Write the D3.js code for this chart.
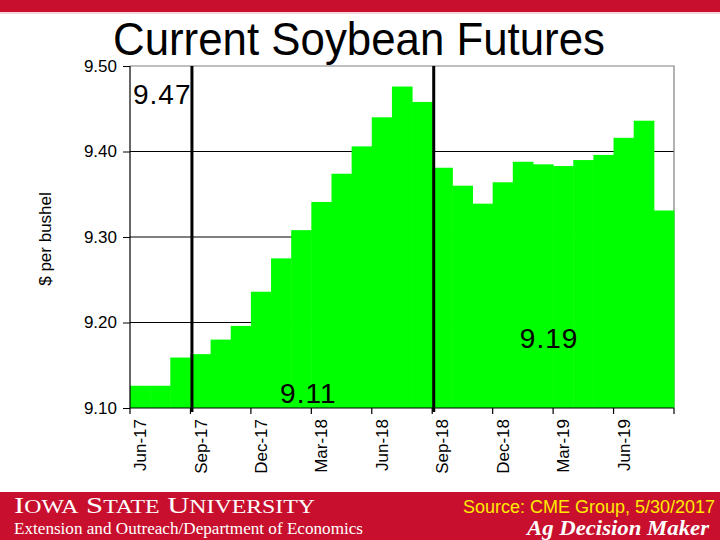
<!DOCTYPE html>
<html><head><meta charset="utf-8">
<script src="https://cdn.jsdelivr.net/npm/d3@7"></script>
<style>
html,body{margin:0;padding:0;background:#fff;}
svg{display:block;}
</style></head>
<body>
<svg id="chart" width="720" height="540"></svg>
<script>
// ---- data ----
const months = ["Jun-17","Jul-17","Aug-17","Sep-17","Oct-17","Nov-17","Dec-17","Jan-18","Feb-18","Mar-18","Apr-18","May-18","Jun-18","Jul-18","Aug-18","Sep-18","Oct-18","Nov-18","Dec-18","Jan-19","Feb-19","Mar-19","Apr-19","May-19","Jun-19","Jul-19","Aug-19"];
const prices = [9.126,9.126,9.159,9.163,9.180,9.196,9.236,9.275,9.308,9.341,9.374,9.406,9.440,9.476,9.458,9.381,9.360,9.339,9.364,9.388,9.385,9.383,9.390,9.396,9.416,9.436,9.331];
const yTicks = [9.10,9.20,9.30,9.40,9.50];
const markerMonths = ["Sep-17","Sep-18"];
const annotations = ["9.47","9.11","9.19"];
const title = "Current Soybean Futures";
const yLabel = "$ per bushel";
const sourceText = "Source: CME Group, 5/30/2017";

const svg = d3.select("#chart");
const red = "#C8102E";

// top band
svg.append("rect").attr("x",0).attr("y",0).attr("width",720).attr("height",12).attr("fill",red);
svg.append("rect").attr("x",0).attr("y",12).attr("width",720).attr("height",2).attr("fill","#f3d6da");

const x = d3.scaleBand().domain(months).range([130,674]).padding(0);
const y = d3.scaleLinear().domain([9.10,9.50]).range([408,66]);

// gridlines
svg.append("g").selectAll("line").data(yTicks.filter(t=>t>9.1 && t<9.5)).join("line")
  .attr("x1",130).attr("x2",674).attr("y1",d=>y(d)).attr("y2",d=>y(d))
  .attr("stroke","#000").attr("stroke-width",1.2);
// top & right border
svg.append("path").attr("d",`M130,${y(9.5)}H674V${y(9.1)}`).attr("fill","none").attr("stroke","#808080").attr("stroke-width",1.2);

// bars
svg.append("g").selectAll("rect").data(prices).join("rect")
  .attr("x",(d,i)=>x(months[i])).attr("width",x.bandwidth()+0.5)
  .attr("y",d=>y(d)).attr("height",d=>y(9.10)-y(d))
  .attr("fill","#00FF00");

// y axis
const yAxis = d3.axisLeft(y).tickValues(yTicks).tickFormat(d3.format(".2f")).tickSize(7).tickPadding(6);
const gy = svg.append("g").attr("transform","translate(130,0)").call(yAxis);
gy.select(".domain").attr("stroke","#000").attr("stroke-width",1.2).attr("d",`M0,${y(9.5)}V${y(9.1)}`);
gy.selectAll(".tick line").attr("stroke","#000");
gy.selectAll("text").attr("font-family","Liberation Sans, Arial, sans-serif").attr("font-size",17).attr("fill","#000");

// x axis
const xTickIdx = months.map((m,i)=>i).filter(i=>i%3===0);
const gx = svg.append("g");
gx.append("line").attr("x1",130).attr("x2",674).attr("y1",y(9.1)).attr("y2",y(9.1)).attr("stroke","#000").attr("stroke-width",1.2);
gx.selectAll("line.tk").data(xTickIdx.map(i=>x(months[i])).concat([x.range()[1]])).join("line").attr("class","tk")
  .attr("x1",d=>d).attr("x2",d=>d).attr("y1",y(9.1)).attr("y2",y(9.1)+6).attr("stroke","#000").attr("stroke-width",1.2);
gx.selectAll("text").data(xTickIdx).join("text")
  .attr("transform",i=>`translate(${x(months[i])+x.bandwidth()/2+6},${y(9.1)+11}) rotate(-90)`)
  .attr("text-anchor","end")
  .attr("font-family","Liberation Sans, Arial, sans-serif").attr("font-size",17).attr("fill","#000")
  .text(i=>months[i]);

// vertical marker lines
svg.append("g").selectAll("line").data(markerMonths).join("line")
  .attr("x1",d=>x(d)+1.5).attr("x2",d=>x(d)+1.5).attr("y1",y(9.5)).attr("y2",y(9.1)+4)
  .attr("stroke","#000").attr("stroke-width",3);

// annotations
const ann = svg.append("g").attr("font-family","Liberation Sans, Arial, sans-serif").attr("font-size",28).attr("fill","#000").attr("letter-spacing",1);
ann.append("text").attr("x",x(months[0])+3).attr("y",y(9.455)).text(annotations[0]);
ann.append("text").attr("x",x("Mar-18")-3).attr("y",y(9.106)).attr("text-anchor","middle").text(annotations[1]);
ann.append("text").attr("x",x("Mar-19")-4).attr("y",y(9.170)).attr("text-anchor","middle").text(annotations[2]);

// title
svg.append("text").attr("x",113).attr("y",55).attr("font-family","Liberation Sans, Arial, sans-serif")
  .attr("font-size",46).attr("textLength",492).attr("lengthAdjust","spacingAndGlyphs").attr("fill","#000").text(title);

// y label
svg.append("text").attr("transform",`translate(51,${(y(9.1)+y(9.5))/2+2}) rotate(-90)`).attr("text-anchor","middle")
  .attr("font-family","Liberation Sans, Arial, sans-serif").attr("font-size",17).attr("fill","#000").text(yLabel);

// bottom banner
svg.append("rect").attr("x",0).attr("y",492).attr("width",720).attr("height",48).attr("fill",red);
const isu = svg.append("text").attr("x",14).attr("y",513).attr("font-family","Liberation Serif, Times New Roman, serif")
  .attr("fill","#fff").attr("textLength",301).attr("lengthAdjust","spacingAndGlyphs");
[["I",20],["OWA",15.5],[" S",20],["TATE",15.5],[" U",20],["NIVERSITY",15.5]].forEach(([t,s])=>isu.append("tspan").attr("font-size",s*1.2).text(t));
svg.append("text").attr("x",14).attr("y",534).attr("font-family","Liberation Serif, Times New Roman, serif")
  .attr("font-size",16).attr("fill","#fff").attr("textLength",349).attr("lengthAdjust","spacingAndGlyphs")
  .text("Extension and Outreach/Department of Economics");
svg.append("text").attr("x",463).attr("y",513).attr("font-family","Liberation Sans, Arial, sans-serif")
  .attr("font-size",17.5).attr("fill","#FFEB00").attr("textLength",252).attr("lengthAdjust","spacingAndGlyphs").text(sourceText);
svg.append("text").attr("x",527).attr("y",535).attr("font-family","Liberation Serif, Times New Roman, serif")
  .attr("font-size",21).attr("font-weight","bold").attr("font-style","italic").attr("fill","#fff")
  .attr("textLength",182).attr("lengthAdjust","spacingAndGlyphs").text("Ag Decision Maker");
</script>
</body></html>
